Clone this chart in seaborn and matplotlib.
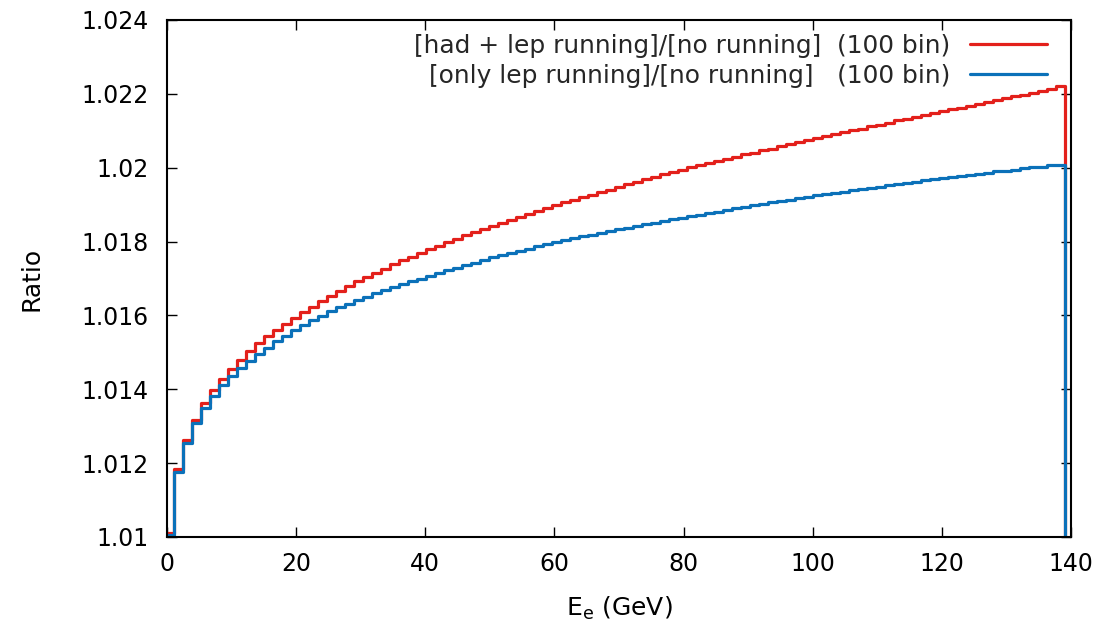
import numpy as np
import pandas as pd
import matplotlib
matplotlib.use("Agg")
import matplotlib.pyplot as plt
import seaborn as sns

# ---------------- data ----------------
e_first_edge = -0.31     # GeV, left edge of first bin
e_last_edge = 139.1      # GeV, right edge of last bin
n_bins = 100

ratio_had_lep = [
    1.01012, 1.01183, 1.01263, 1.01317, 1.01363, 1.01398, 1.01428, 1.01455, 1.01480, 1.01503,
    1.01524, 1.01544, 1.01561, 1.01577, 1.01593, 1.01609, 1.01624, 1.01639, 1.01653, 1.01666,
    1.01679, 1.01692, 1.01704, 1.01716, 1.01727, 1.01738, 1.01749, 1.01759, 1.01769, 1.01779,
    1.01789, 1.01798, 1.01808, 1.01817, 1.01826, 1.01834, 1.01843, 1.01851, 1.01859, 1.01867,
    1.01875, 1.01883, 1.01891, 1.01898, 1.01906, 1.01913, 1.01920, 1.01927, 1.01934, 1.01941,
    1.01948, 1.01955, 1.01962, 1.01969, 1.01975, 1.01982, 1.01989, 1.01995, 1.02001, 1.02007,
    1.02013, 1.02018, 1.02024, 1.02030, 1.02036, 1.02041, 1.02047, 1.02052, 1.02058, 1.02063,
    1.02069, 1.02074, 1.02080, 1.02085, 1.02090, 1.02096, 1.02101, 1.02106, 1.02112, 1.02117,
    1.02122, 1.02128, 1.02133, 1.02138, 1.02143, 1.02148, 1.02153, 1.02158, 1.02163, 1.02168,
    1.02173, 1.02178, 1.02183, 1.02188, 1.02193, 1.02198, 1.02203, 1.02208, 1.02213, 1.02220,
]

ratio_lep_only = [
    1.01006, 1.01177, 1.01255, 1.01308, 1.01350, 1.01383, 1.01412, 1.01437, 1.01458, 1.01477,
    1.01496, 1.01513, 1.01530, 1.01545, 1.01560, 1.01574, 1.01587, 1.01599, 1.01611, 1.01622,
    1.01632, 1.01642, 1.01651, 1.01660, 1.01668, 1.01676, 1.01684, 1.01692, 1.01700, 1.01708,
    1.01715, 1.01722, 1.01729, 1.01736, 1.01743, 1.01750, 1.01757, 1.01763, 1.01769, 1.01775,
    1.01781, 1.01787, 1.01793, 1.01798, 1.01804, 1.01809, 1.01814, 1.01819, 1.01824, 1.01828,
    1.01833, 1.01838, 1.01842, 1.01847, 1.01851, 1.01856, 1.01860, 1.01864, 1.01869, 1.01873,
    1.01877, 1.01881, 1.01886, 1.01890, 1.01894, 1.01898, 1.01902, 1.01906, 1.01910, 1.01913,
    1.01917, 1.01921, 1.01925, 1.01928, 1.01932, 1.01935, 1.01939, 1.01942, 1.01946, 1.01949,
    1.01953, 1.01956, 1.01959, 1.01962, 1.01966, 1.01969, 1.01972, 1.01975, 1.01978, 1.01981,
    1.01984, 1.01987, 1.01990, 1.01992, 1.01995, 1.01998, 1.02001, 1.02003, 1.02006, 1.02008,
]

overflow_value = 0.0     # histogram is empty past the last bin

series_labels = [
    "[had + lep running]/[no running]  (100 bin)",
    "[only lep running]/[no running]   (100 bin)",
]
series_colors = ["#e3201b", "#0b71b9"]

x_ticks = [0, 20, 40, 60, 80, 100, 120, 140]
y_ticks = [1.010, 1.012, 1.014, 1.016, 1.018, 1.020, 1.022, 1.024]
y_tick_labels = ["1.01", "1.012", "1.014", "1.016", "1.018", "1.02", "1.022", "1.024"]
x_label = r"E$_\mathregular{e}$ (GeV)"
y_label = "Ratio"

# ---------------- build table ----------------
edges = np.linspace(e_first_edge, e_last_edge, n_bins + 1)
frames = []
for lab, vals in zip(series_labels, [ratio_had_lep, ratio_lep_only]):
    frames.append(pd.DataFrame({"E": edges,
                                "ratio": list(vals) + [overflow_value],
                                "series": lab}))
df = pd.concat(frames, ignore_index=True)

# ---------------- plot ----------------
sns.set_theme(style="ticks")
plt.rcParams["font.family"] = ["DejaVu Sans"]
plt.rcParams["mathtext.fontset"] = "dejavusans"

W, H = 1118, 625
fig = plt.figure(figsize=(W / 100, H / 100), dpi=100)
ax = fig.add_axes([167 / W, 1 - 537 / H, 904 / W, 517 / H])

sns.lineplot(data=df, x="E", y="ratio", hue="series", hue_order=series_labels,
             palette=series_colors, drawstyle="steps-post", linewidth=2.3,
             estimator=None, sort=False, ax=ax, legend=True)

ax.set_xlim(0, 140)
ax.set_ylim(1.010, 1.024)
ax.set_xticks(x_ticks)
ax.set_xticklabels([str(t) for t in x_ticks])
ax.set_yticks(y_ticks)
ax.set_yticklabels(y_tick_labels)

ax.tick_params(axis="both", which="major", direction="in", top=True, right=True,
               length=7, width=1.0, color="black", labelsize=17, labelcolor="black")
ax.tick_params(axis="x", pad=11)
ax.tick_params(axis="y", pad=13)

for sp in ax.spines.values():
    sp.set_visible(True)
    sp.set_color("black")
    sp.set_linewidth(1.5)

ax.set_xlabel(x_label, fontsize=18, color="black")
ax.set_ylabel(y_label, fontsize=18, color="black")
ax.xaxis.set_label_coords(0.5, -0.112)
ax.yaxis.set_label_coords(-0.1370, 0.5)

handles, labels = ax.get_legend_handles_labels()
leg = ax.legend(handles, labels, loc="upper right",
                bbox_to_anchor=(1 - 24 / 904, 1 - 13.5 / 517),
                frameon=False, markerfirst=False, alignment="right",
                handlelength=3.1, handletextpad=0.8, labelspacing=0.25,
                fontsize=17.9, borderaxespad=0, borderpad=0)
for line in leg.get_lines():
    line.set_linewidth(2.3)

fig.savefig("out.png", dpi=100)
